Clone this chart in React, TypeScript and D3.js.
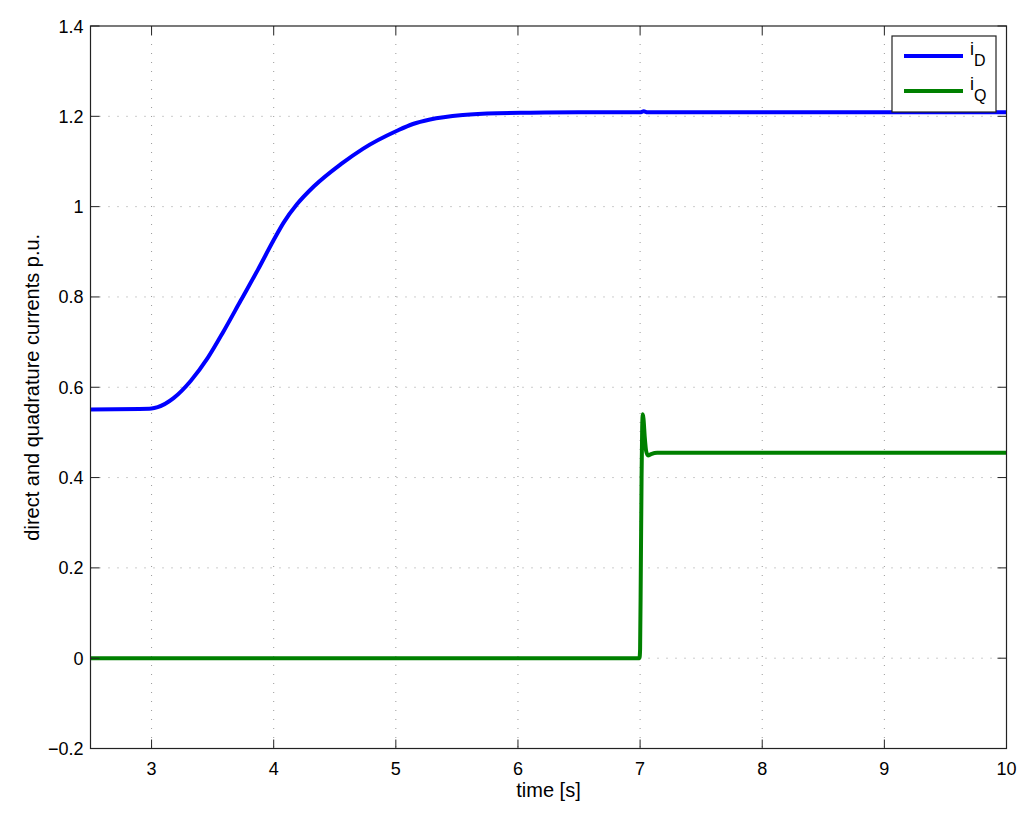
import React from "react";
import * as d3 from "d3";

// values
const timeD = [2.5, 2.9, 3.0, 3.05, 3.18, 3.32, 3.46, 3.59, 3.73, 3.87, 4.0, 4.08, 4.19, 4.33, 4.55, 4.73, 5.01, 5.14, 5.28, 5.55, 5.83, 6.1, 6.5, 7.0, 7.03, 7.06, 8, 9, 10];
const iD = [0.551, 0.552, 0.553, 0.556, 0.576, 0.614, 0.665, 0.724, 0.792, 0.86, 0.926, 0.964, 1.005, 1.045, 1.094, 1.128, 1.168, 1.183, 1.193, 1.203, 1.207, 1.208, 1.209, 1.209, 1.211, 1.209, 1.209, 1.209, 1.209];

const timeQ = [2.5, 4, 5.5, 6.995, 7.0, 7.006, 7.012, 7.017, 7.022, 7.028, 7.038, 7.05, 7.065, 7.09, 7.14, 8, 9, 10];
const iQ = [0, 0, 0, 0, 0.02, 0.2, 0.4, 0.51, 0.54, 0.53, 0.49, 0.458, 0.449, 0.452, 0.455, 0.455, 0.455, 0.455];

const xTicks = [3, 4, 5, 6, 7, 8, 9, 10];
const yTicks = [-0.2, 0, 0.2, 0.4, 0.6, 0.8, 1, 1.2, 1.4];

const series = [
  { name: "D", t: timeD, v: iD, color: "#0000ff" },
  { name: "Q", t: timeQ, v: iQ, color: "#008000" },
];

const fmt = (d: number) => (d < 0 ? "\u2212" + String(-d) : String(Math.round(d * 10) / 10));

export default function App() {
  const width = 1024;
  const height = 818;
  const margin = { top: 26, right: 17.5, bottom: 69.5, left: 90.5 };
  const innerWidth = width - margin.left - margin.right;
  const innerHeight = height - margin.top - margin.bottom;

  const xScale = d3.scaleLinear().domain([2.5, 10]).range([0, innerWidth]);
  const yScale = d3.scaleLinear().domain([-0.2, 1.4]).range([innerHeight, 0]);

  const line = d3
    .line<[number, number]>()
    .x((d) => xScale(d[0]))
    .y((d) => yScale(d[1]))
    .curve(d3.curveMonotoneX);

  const font = "Liberation Sans, Arial, Helvetica, sans-serif";
  const tick = 9;

  return (
    <svg
      width={width}
      height={height}
      style={{ position: "absolute", left: 0, top: 0, background: "#fff" }}
      fontFamily={font}
    >
      <g transform={`translate(${margin.left},${margin.top})`}>
        {/* grid */}
        {xTicks.slice(0, -1).map((t) => (
          <line key={"gx" + t} x1={xScale(t)} x2={xScale(t)} y1={0} y2={innerHeight}
            stroke="#999" strokeWidth={1} strokeDasharray="1,8" />
        ))}
        {yTicks.slice(1, -1).map((t) => (
          <line key={"gy" + t} x1={0} x2={innerWidth} y1={yScale(t)} y2={yScale(t)}
            stroke="#999" strokeWidth={1} strokeDasharray="1,8" />
        ))}

        {/* curves */}
        {series.map((s) => (
          <path
            key={s.name}
            d={line(s.t.map((t, i) => [t, s.v[i]]) as [number, number][]) || ""}
            fill="none"
            stroke={s.color}
            strokeWidth={4}
            strokeLinejoin="round"
          />
        ))}

        {/* box + ticks */}
        <rect x={0} y={0} width={innerWidth} height={innerHeight} fill="none" stroke="#222" strokeWidth={1.2} />
        {xTicks.map((t) => (
          <g key={"tx" + t}>
            <line x1={xScale(t)} x2={xScale(t)} y1={innerHeight} y2={innerHeight - tick} stroke="#222" />
            <line x1={xScale(t)} x2={xScale(t)} y1={0} y2={tick} stroke="#222" />
            <text x={xScale(t)} y={innerHeight + 26} textAnchor="middle" fontSize={18} fill="#000">
              {fmt(t)}
            </text>
          </g>
        ))}
        {yTicks.map((t) => (
          <g key={"ty" + t}>
            <line x1={0} x2={tick} y1={yScale(t)} y2={yScale(t)} stroke="#222" />
            <line x1={innerWidth} x2={innerWidth - tick} y1={yScale(t)} y2={yScale(t)} stroke="#222" />
            <text x={-7} y={yScale(t) + 6.5} textAnchor="end" fontSize={18} fill="#000">
              {fmt(t)}
            </text>
          </g>
        ))}

        {/* axis labels */}
        <text x={innerWidth / 2} y={innerHeight + 48.5} textAnchor="middle" fontSize={20} fill="#000">
          time [s]
        </text>
        <text
          transform={`translate(${-51.5},${innerHeight / 2}) rotate(-90)`}
          textAnchor="middle"
          fontSize={20}
          fill="#000"
        >
          direct and quadrature currents p.u.
        </text>

        {/* legend */}
        <g transform={`translate(${892 - margin.left},${36 - margin.top})`}>
          <rect x={0} y={0} width={104} height={76} fill="#fff" stroke="#222" strokeWidth={1.2} />
          {series.map((s, i) => (
            <g key={"lg" + s.name} transform={`translate(0,${20 + i * 35})`}>
              <line x1={12} x2={71} y1={0} y2={0} stroke={s.color} strokeWidth={4} />
              <text x={78} y={-1} fontSize={18} fill="#000">
                i
                <tspan dy={11} fontSize={16}>{s.name}</tspan>
              </text>
            </g>
          ))}
        </g>
      </g>
    </svg>
  );
}
